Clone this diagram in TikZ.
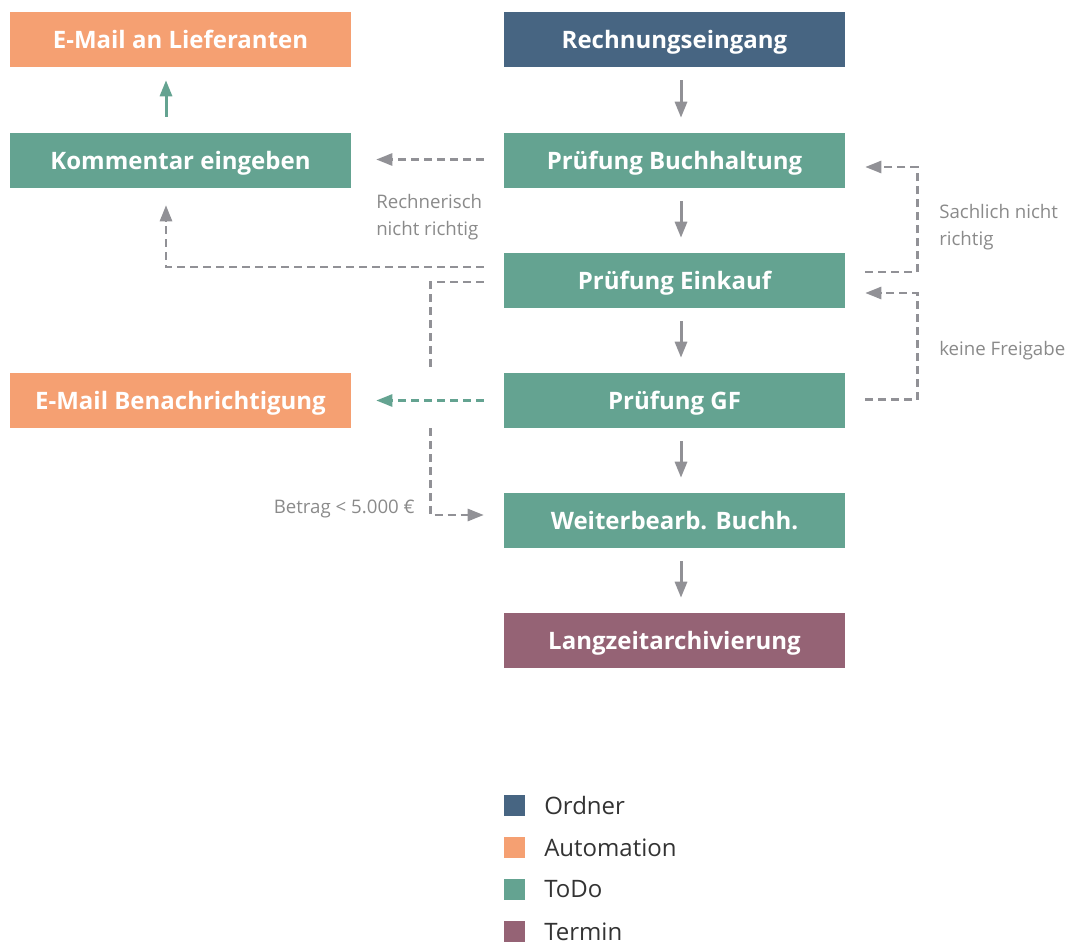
\documentclass[tikz,border=0pt]{standalone}
\usepackage{fontspec}
\setmainfont{Open Sans}
\usetikzlibrary{calc,arrows.meta}
\definecolor{cblue}{HTML}{476582}
\definecolor{corange}{HTML}{F5A072}
\definecolor{cteal}{HTML}{64A391}
\definecolor{cmauve}{HTML}{956375}
\definecolor{cgray}{HTML}{919196}
\definecolor{ctext}{HTML}{8A8A8A}
\definecolor{cdark}{HTML}{333333}
\tikzset{
  box/.style={draw=none, fill=#1, minimum width=255.75pt, minimum height=41.25pt, inner sep=0pt,
    text=white, font=\fontsize{18}{21}\selectfont\bfseries, text height=12.9pt, text depth=0pt},
  arr/.style={-{Triangle[length=12pt,width=9pt]}, line width=2.25pt, draw=#1},
  darr/.style={-{Triangle[length=12pt,width=9pt]}, line width=1.9pt, draw=#1, dash pattern=on 6pt off 3.75pt},
  dline/.style={line width=1.9pt, draw=cgray, dash pattern=on 6pt off 3.75pt},
  lbl/.style={text=ctext, font=\fontsize{14}{20}\selectfont, inner sep=0pt, align=left},
  leg/.style={fill=#1, minimum width=15.75pt, minimum height=15.75pt, inner sep=0pt},
  legtext/.style={text=cdark, font=\fontsize{18}{21}\selectfont, inner sep=0pt, anchor=west}
}
\begin{document}
\begin{tikzpicture}[x=0.75pt,y=-0.75pt]
\useasboundingbox (0,0) rectangle (1072,942);
% boxes
\node[box=corange] (mail) at (180.5,39.5) {E-Mail an Lieferanten};
\node[box=cblue] (rech) at (674.5,39.5) {Rechnungseingang};
\node[box=cteal] (kom) at (180.5,160.5) {Kommentar eingeben};
\node[box=cteal] (pb) at (674.5,160.5) {Prüfung Buchhaltung};
\node[box=cteal] (pe) at (674.5,280.5) {Prüfung Einkauf};
\node[box=corange] (ben) at (180.5,400.5) {E-Mail Benachrichtigung};
\node[box=cteal] (gf) at (674.5,400.5) {Prüfung GF};
\node[box=cteal] (wb) at (674.5,520.5) {Weiterbearb. Buchh.};
\node[box=cmauve] (lz) at (674.5,640.5) {Langzeitarchivierung};
% solid vertical arrows
\draw[arr=cgray] ($(rech.south)+(6.5,13)$) -- ($(pb.north)+(6.5,-15)$);
\draw[arr=cgray] ($(pb.south)+(6.5,13)$) -- ($(pe.north)+(6.5,-15)$);
\draw[arr=cgray] ($(pe.south)+(6.5,13)$) -- ($(gf.north)+(6.5,-15)$);
\draw[arr=cgray] ($(gf.south)+(6.5,13)$) -- ($(wb.north)+(6.5,-15)$);
\draw[arr=cgray] ($(wb.south)+(6.5,13)$) -- ($(lz.north)+(6.5,-15)$);
\draw[arr=cteal] ($(kom.north)+(-14.5,-16)$) -- ($(mail.south)+(-14.5,13)$);
% dashed arrows left
\draw[darr=cgray] ($(pb.west)+(-20,-1)$) -- ($(kom.east)+(25,-1)$);
\draw[darr=cgray] ($(pe.west)+(-20,-13.5)$) -| ($(kom.south)+(-14.5,17)$);
\coordinate (j1) at ($(pe.west)+(-73,86.5)$);
\coordinate (j2) at ($(pe.west)+(-73,147.5)$);
\draw[dline] ($(pe.west)+(-20,1.5)$) -| (j1);
\draw[darr=cgray] (j2) |- ($(wb.west)+(-20,-5.5)$);
\draw[darr=cteal] ($(gf.west)+(-20,0)$) -- ($(ben.east)+(25,0)$);
% right loops
\draw[darr=cgray] ($(pe.east)+(20,-8.5)$) -| ($(pb.east)+(72,6.5)$) -- ($(pb.east)+(20,6.5)$);
\draw[darr=cgray] ($(gf.east)+(20,-1)$) -| ($(pe.east)+(72,12.5)$) -- ($(pe.east)+(20,12.5)$);
% labels
\node[lbl, anchor=base west] (l1) at (376,235) {Rechnerisch\\nicht richtig};
\node[lbl, anchor=base west] (l2) at (939,245) {Sachlich nicht\\richtig};
\node[lbl, anchor=base west] (l3) at (939,355) {keine Freigabe};
\node[lbl, anchor=base east] (l4) at (415,513) {Betrag < 5.000 €};
% legend
\node[leg=cblue] (k1) at (514.5,805.5) {};
\node[leg=corange] (k2) at (514.5,847.5) {};
\node[leg=cteal] (k3) at (514.5,889.5) {};
\node[leg=cmauve] (k4) at (514.5,931.5) {};
\node[legtext] (t1) at (544,805.5) {Ordner};
\node[legtext] (t2) at (544,847.5) {Automation};
\node[legtext] (t3) at (544,889.5) {ToDo};
\node[legtext] (t4) at (544,931.5) {Termin};
\end{tikzpicture}
\end{document}
